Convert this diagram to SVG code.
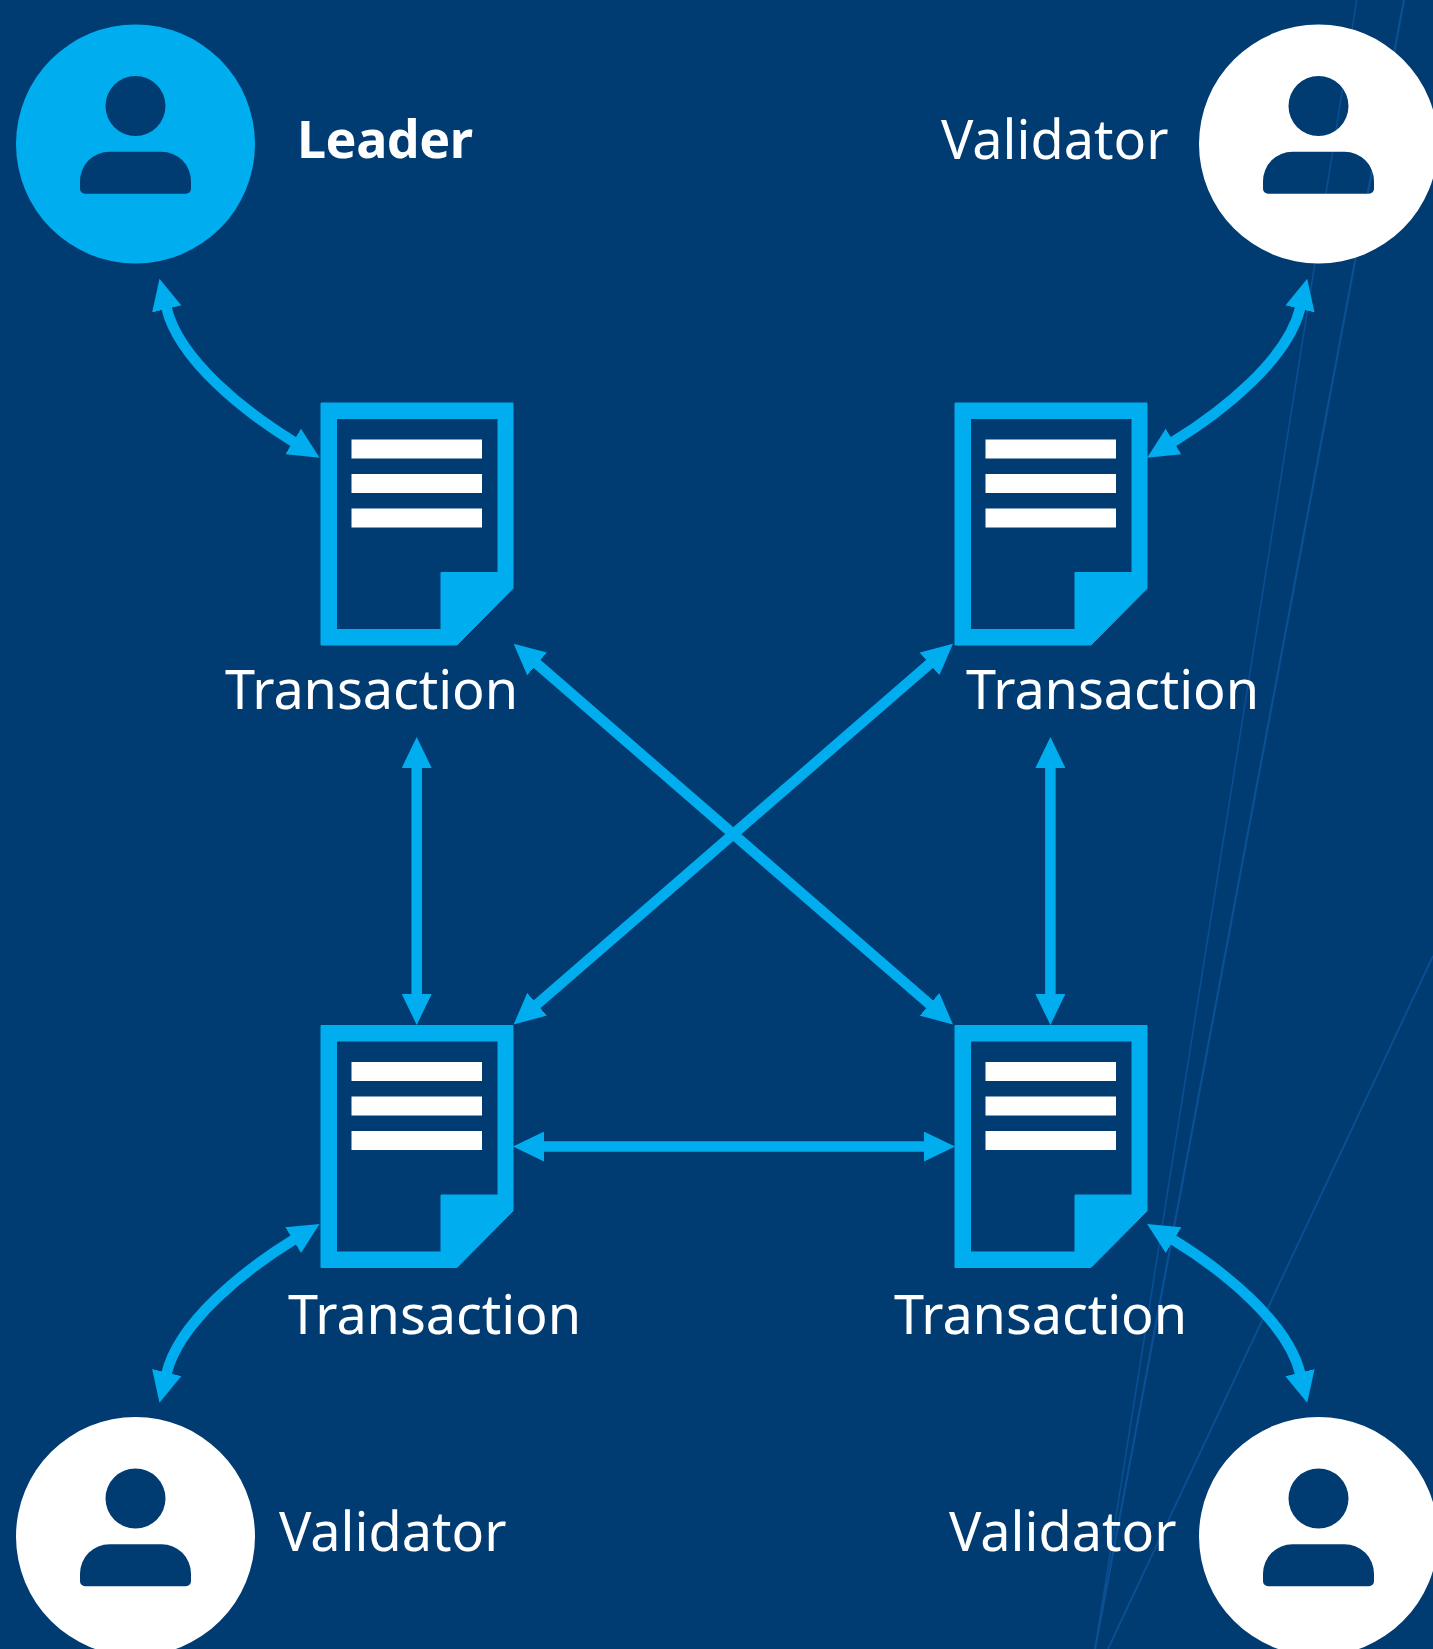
<svg xmlns="http://www.w3.org/2000/svg" width="1433" height="1649" viewBox="0 0 1433 1649">
<style>
.bg{fill:#003c71}
.deco{fill:none;stroke:#0a5095}
.t{font-family:"Noto Sans","Open Sans",sans-serif;font-size:54px;fill:#fff}
.b{font-weight:700;font-size:52px}
.c{fill:none;stroke:#00aeef;stroke-width:10.500;marker-start:url(#ah);marker-end:url(#ah)}
.doc{fill:#00aeef;fill-rule:evenodd;stroke:#00aeef;stroke-width:1;stroke-linejoin:round}
.ln{fill:#fff}
</style>
<defs>
<marker id="ah" markerUnits="userSpaceOnUse" viewBox="0 0 31 30" refX="1" refY="15" markerWidth="31" markerHeight="30" orient="auto-start-reverse"><path d="M0 0L31 15L0 30Z" fill="#00aeef"/></marker>
<path id="p" fill-rule="evenodd" d="M-119.5 0A119.5 119.5 0 1 1 119.5 0A119.5 119.5 0 1 1 -119.5 0ZM-30 -38A30 30 0 1 0 30 -38A30 30 0 1 0 -30 -38ZM-26 7.7A29.500 29.500 0 0 0 -55.500 37.200V44.700A5 5 0 0 0 -50.500 49.700H50.500A5 5 0 0 0 55.500 44.700V37.200A29.500 29.500 0 0 0 26 7.700Z"/>
<g id="d">
<path class="doc" d="M0 0H192V185.500L136 242H0ZM15.500 15.500V226.500H120V169.500H177V15.500Z"/>
<rect class="ln" x="30.500" y="36.500" width="130.500" height="19"/>
<rect class="ln" x="30.500" y="71" width="130.500" height="19"/>
<rect class="ln" x="30.500" y="105.500" width="130.500" height="19"/>
</g>
</defs>
<rect class="bg" width="1433" height="1649"/>
<g id="decor">
<path class="deco" stroke-width="1.500" d="M1356.700 0L1095 1649"/>
<path class="deco" stroke-width="2.200" d="M1404 0L1095 1649"/>
<path class="deco" stroke-width="1.800" d="M1433 956L1108 1649"/>
</g>
<g id="connectors">
<path class="c" d="M166.500 308C179 360 245 412 294 442"/>
<path class="c" d="M1300.200 308C1287.700 360 1221.700 412 1172.700 442"/>
<path class="c" d="M166.500 1373.600C179 1321.600 245 1269.600 294 1239.600"/>
<path class="c" d="M1300.200 1373.600C1287.700 1321.600 1221.700 1269.600 1172.700 1239.600"/>
<path class="c" d="M416.700 767V995"/>
<path class="c" d="M1050.400 767V995"/>
<path class="c" d="M543 1146.600H925"/>
<path class="c" d="M536.300 663.300L930.300 1004.900"/>
<path class="c" d="M930.300 663.300L536.300 1004.900"/>
</g>
<g id="leader"><use href="#p" x="135.500" y="144" fill="#00aeef"/><text class="t b" x="297" y="158" textLength="176">Leader</text></g>
<g id="validator-tr"><use href="#p" x="1318.500" y="144" fill="#fff"/><text class="t" x="941" y="159">Validator</text></g>
<g id="validator-bl"><use href="#p" x="135.500" y="1536.500" fill="#fff"/><text class="t" x="279" y="1551">Validator</text></g>
<g id="validator-br"><use href="#p" x="1318.500" y="1536.500" fill="#fff"/><text class="t" x="949" y="1551">Validator</text></g>
<g id="tx-tl"><use href="#d" x="321" y="403"/><text class="t" x="225" y="709" textLength="293">Transaction</text></g>
<g id="tx-tr"><use href="#d" x="955" y="403"/><text class="t" x="966" y="709" textLength="293">Transaction</text></g>
<g id="tx-bl"><use href="#d" x="321" y="1025.500"/><text class="t" x="288" y="1333.500" textLength="293">Transaction</text></g>
<g id="tx-br"><use href="#d" x="955" y="1025.500"/><text class="t" x="894" y="1333.500" textLength="293">Transaction</text></g>
</svg>
